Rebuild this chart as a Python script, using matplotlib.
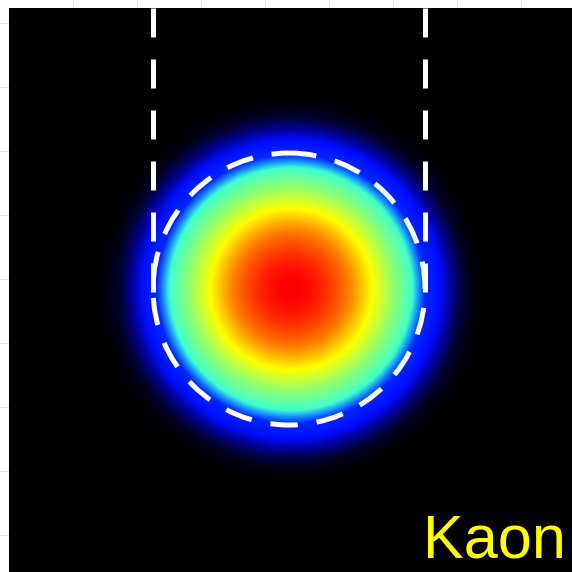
import numpy as np
import matplotlib
matplotlib.use('Agg')
from matplotlib import pyplot as plt
from matplotlib.colors import LinearSegmentedColormap
from matplotlib.patches import Circle

# blob (pixel coordinates of the picture)
blob_center = (291, 289)
blob_sigma = 92.0
blob_edge = 160.0
blob_edge_width = 10.0

# dashed outline: circle + two lines from the top down to the centre
circle_center = (289, 289)
circle_radius = 136
line_x = [153, 425]
line_top = 8
line_bottom = 292

label = 'Kaon'

W = H = 572
fig = plt.figure(figsize=(W/100, H/100), dpi=100)

# faint grid behind, only visible in the margin
bg = fig.add_axes([0, 0, 1, 1])
bg.set_xlim(0, W)
bg.set_ylim(H, 0)
for gx in np.arange(73, W, 64):
    bg.axvline(gx, color='#dde3f0', lw=0.8)
for gy in np.arange(23, H, 64):
    bg.axhline(gy, color='#dde3f0', lw=0.8)
bg.axis('off')

ax = fig.add_axes([9/W, 0, (W-9)/W, (H-8)/H])
ax.set_xlim(9, W)
ax.set_ylim(H, 8)
ax.set_facecolor('black')

yy, xx = np.mgrid[0:H, 0:W] + 0.5
r = np.hypot(xx - blob_center[0], yy - blob_center[1])
z = np.exp(-r**2 / (2*blob_sigma**2)) / (1 + np.exp((r - blob_edge)/blob_edge_width))
z = z / z.max()

cmap = LinearSegmentedColormap.from_list('kjet', [
    (0.0, (0, 0, 0)),
    (0.1, (0, 0, 0.55)),
    (0.2, (0, 0.05, 1)),
    (0.32, (0, 0.15, 1)),
    (0.37, (0.1, 0.6, 1)),
    (0.41, (0.25, 1, 0.8)),
    (0.55, (0.6, 1, 0.4)),
    (0.68, (1, 1, 0)),
    (0.82, (1, 0.5, 0)),
    (1.0, (1, 0, 0)),
])
ax.imshow(z, cmap=cmap, extent=(0, W, H, 0), interpolation='bilinear', vmin=0, vmax=1)

ax.add_patch(Circle(circle_center, circle_radius, fill=False, ec='white', lw=3.6,
                    ls=(0, (5.5, 3.8))))
for lx in line_x:
    ax.plot([lx, lx], [line_bottom, line_top], color='white', lw=3.6, ls=(0, (5.8, 4.4)))

ax.text(566, 558, label, color='yellow', fontsize=44, family='Liberation Sans',
        ha='right', va='baseline')
ax.set_xticks([])
ax.set_yticks([])
for s in ax.spines.values():
    s.set_visible(False)

fig.savefig('out.png', dpi=100)
